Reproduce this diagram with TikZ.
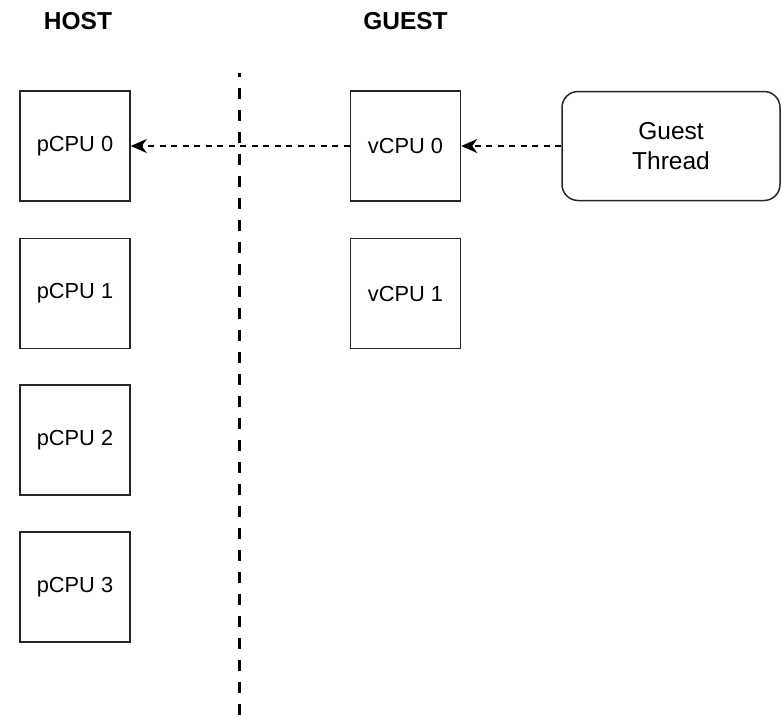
\documentclass[tikz,border=0pt]{standalone}
\usepackage{fontspec}
\setmainfont{Liberation Sans}
\usetikzlibrary{arrows.meta}

\tikzset{
  cpubox/.style={draw=black!85, line width=1.5pt, minimum width=110pt, minimum height=110pt,
    inner sep=0pt, font=\fontsize{21.8}{26}\selectfont},
  threadbox/.style={draw=black!85, line width=1.5pt, rounded corners=16pt, minimum width=218pt,
    minimum height=109pt, inner sep=0pt, align=center, font=\fontsize{24.5}{29.5}\selectfont},
  heading/.style={font=\bfseries\fontsize{24.5}{28}\selectfont},
  maplink/.style={draw=black, line width=1.6pt, dash pattern=on 6pt off 5.5pt,
    -{Stealth[length=16pt, width=14pt, inset=5pt]}},
  divider/.style={draw=black, line width=3pt, dash pattern=on 11pt off 11pt, dash phase=7pt}
}

\begin{document}
\begin{tikzpicture}[x=1pt, y=-1pt]
  \useasboundingbox (0,0) rectangle (781,718);

  % column headings
  \node[heading] (host) at (78,21) {HOST};
  \node[heading] (guest) at (405.5,21) {GUEST};

  % host / guest boundary
  \coordinate (divtop) at (239,73);
  \coordinate (divbot) at (239,718);
  \draw[divider] (divtop) -- (divbot);

  % physical CPUs
  \node[cpubox] (p0) at (75,146) {pCPU 0};
  \node[cpubox] (p1) at (75,293.5) {pCPU 1};
  \node[cpubox] (p2) at (75,440) {pCPU 2};
  \node[cpubox] (p3) at (75,587) {pCPU 3};

  % virtual CPUs
  \node[cpubox] (v0) at (405.5,146) {vCPU 0};
  \node[cpubox] (v1) at (405.5,293.5) {vCPU 1};

  % guest thread
  \node[threadbox] (gt) at (671,146) {Guest\\Thread};

  % scheduling links
  \draw[maplink] (gt.west) -- (v0.east);
  \draw[maplink] (v0.west) -- (p0.east);
\end{tikzpicture}
\end{document}
